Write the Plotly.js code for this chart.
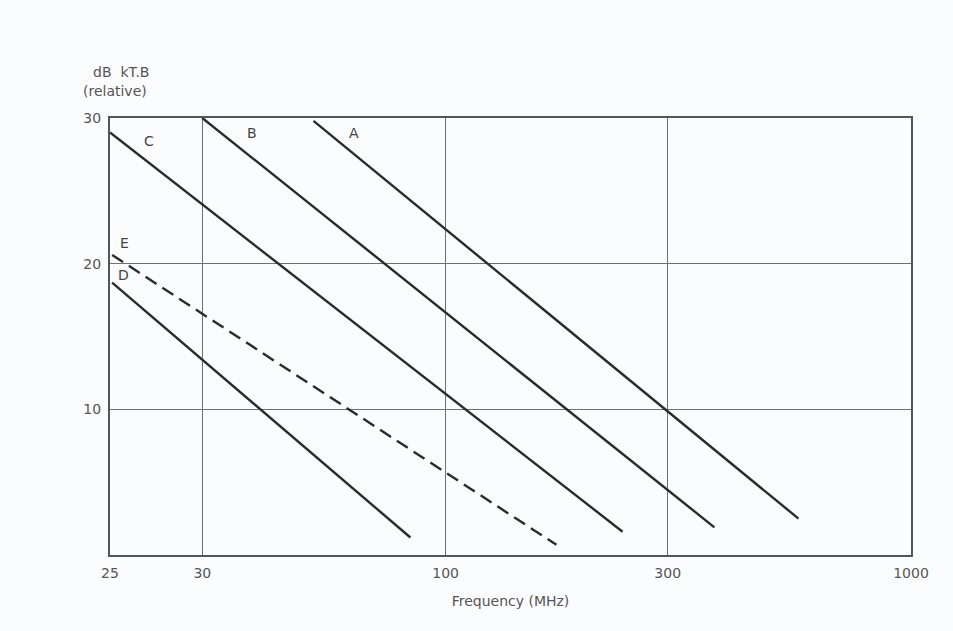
<!DOCTYPE html>
<html>
<head>
<meta charset="utf-8">
<script src="https://cdn.plot.ly/plotly-3.0.1.min.js"></script>
<style>html,body{margin:0;padding:0;background:#fbfcfe;}</style>
</head>
<body>
<div id="chart" style="width:953px;height:631px;"></div>
<script>
// Frequency (MHz) and relative noise level (dB kT.B)
const lineNames = ["A", "B", "C", "D", "E"];
const freqA = [52, 573];   const dbA = [29.8, 2.5];
const freqB = [30, 378];   const dbB = [30.0, 1.9];
const freqC = [19, 240];   const dbC = [29.0, 1.6];
const freqD = [19.2, 84];  const dbD = [18.7, 1.2];
const freqE = [19.2, 173]; const dbE = [20.6, 0.7];

const xTickVals = [19, 30, 100, 300, 1000];
const xTickText = ["25", "30", "100", "300", "1000"];
const yTickVals = [10, 20, 30];

const lineCol = "#2b2b2b";
const mk = (x, y, dash) => ({
  x: x, y: y, type: "scatter", mode: "lines",
  line: {color: lineCol, width: 2.4, dash: dash},
  hoverinfo: "skip", showlegend: false
});

const traces = [
  mk(freqA, dbA, "solid"),
  mk(freqB, dbB, "solid"),
  mk(freqC, dbC, "solid"),
  mk(freqD, dbD, "solid"),
  mk(freqE, dbE, "13px,7px")
];

const labelPos = {
  A: [0.296, 0.966], B: [0.168, 0.966], C: [0.040, 0.948],
  D: [0.008, 0.640], E: [0.010, 0.715]
};
const annotations = lineNames.map(n => ({
  text: n, xref: "paper", yref: "paper",
  x: labelPos[n][0], y: labelPos[n][1],
  showarrow: false, xanchor: "left", yanchor: "middle",
  font: {family: "DejaVu Sans, sans-serif", size: 14, color: "#444"}
}));
annotations.push({
  text: "dB  kT.B", xref: "paper", yref: "paper", x: -0.024, y: 1.105,
  showarrow: false, xanchor: "left", yanchor: "middle",
  font: {family: "DejaVu Sans, sans-serif", size: 14, color: "#555"}
});
annotations.push({
  text: "(relative)", xref: "paper", yref: "paper", x: -0.036, y: 1.062,
  showarrow: false, xanchor: "left", yanchor: "middle",
  font: {family: "DejaVu Sans, sans-serif", size: 14, color: "#555"}
});

const layout = {
  width: 953, height: 631,
  margin: {l: 110, r: 42, t: 118, b: 76},
  paper_bgcolor: "#fbfcfe", plot_bgcolor: "#fbfcfe",
  showlegend: false,
  xaxis: {
    type: "log", range: [Math.log10(19), 3],
    tickmode: "array", tickvals: xTickVals, ticktext: xTickText,
    showgrid: true, gridcolor: "#707070", gridwidth: 1.5,
    showline: true, linecolor: "#555", linewidth: 2, mirror: true,
    ticks: "", zeroline: false, ticklabelstandoff: 4,
    tickfont: {family: "DejaVu Sans, sans-serif", size: 14, color: "#555"},
    title: {text: "Frequency (MHz)", standoff: 16,
            font: {family: "DejaVu Sans, sans-serif", size: 14, color: "#555"}}
  },
  yaxis: {
    range: [0, 30], tickmode: "array", tickvals: yTickVals,
    showgrid: true, gridcolor: "#707070", gridwidth: 1.5,
    showline: true, linecolor: "#555", linewidth: 2, mirror: true,
    ticks: "", zeroline: false, ticklabelstandoff: 4,
    tickfont: {family: "DejaVu Sans, sans-serif", size: 14, color: "#555"}
  },
  annotations: annotations
};

Plotly.newPlot("chart", traces, layout, {staticPlot: true, displayModeBar: false});
</script>
</body>
</html>
